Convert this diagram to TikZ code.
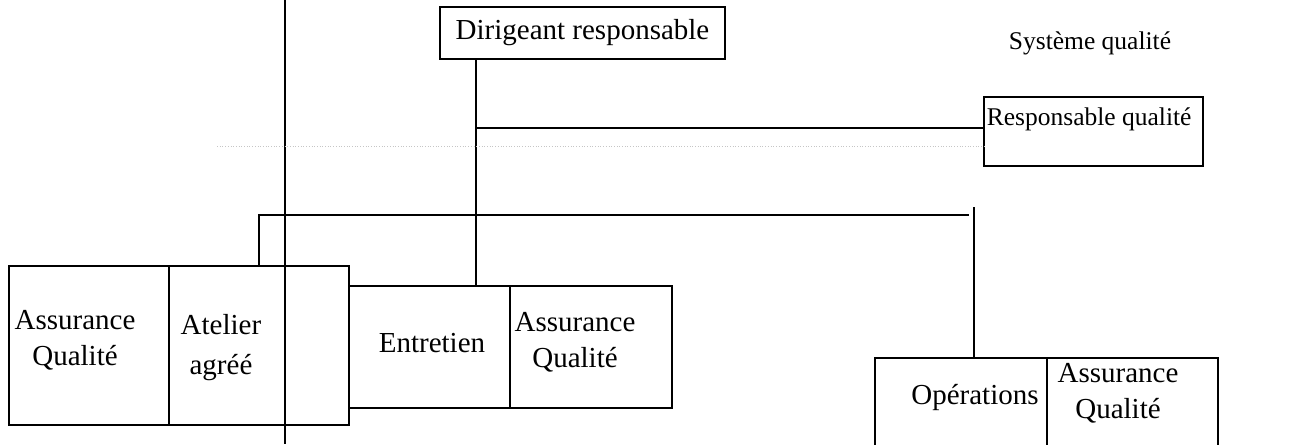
\documentclass[tikz,border=0pt]{standalone}
\usepackage{fontspec}
\setmainfont{Liberation Serif}
\begin{document}
\begin{tikzpicture}[x=1pt,y=-1pt,line width=1.7pt,
  box/.style={draw, anchor=north west, inner sep=0pt, outer sep=0pt},
  txt/.style={font=\fontsize{29}{36}\selectfont, align=center, inner sep=0pt},
  smalltxt/.style={font=\fontsize{25.5}{30}\selectfont, inner sep=0pt}]
\useasboundingbox (0,0) rectangle (1305,444);
\clip (0,0) rectangle (1305,444);
% boxes
\node[box, minimum width=160pt, minimum height=159pt] (aq1) at (9,266) {};
\node[box, minimum width=116pt, minimum height=159pt] (atel) at (169,266) {};
\node[box, minimum width=64pt, minimum height=159pt] (emp) at (285,266) {};
\node[box, minimum width=161pt, minimum height=122pt] (entr) at (349,286) {};
\node[box, minimum width=162pt, minimum height=122pt] (aq2) at (510,286) {};
\node[box, minimum width=285pt, minimum height=52pt] (dir) at (440,7) {};
\node[box, minimum width=219pt, minimum height=69pt] (resp) at (984,97) {};
\node[box, minimum width=172pt, minimum height=120pt] (ops) at (875,358) {};
\node[box, minimum width=171pt, minimum height=120pt] (aq3) at (1047,358) {};
% texts
\node[txt] (taq1) at (75,340) {Assurance\\Qualité};
\node[txt, font=\fontsize{29}{40}\selectfont] (tatel) at (221,348) {Atelier\\agréé};
\node[txt] (tentr) at (432,343) {Entretien};
\node[txt] (taq2) at (575,342) {Assurance\\Qualité};
\node[txt] (tdir) at (dir.center) {Dirigeant responsable};
\node[smalltxt, anchor=west] (tresp) at (986,119) {Responsable qualité};
\node[smalltxt] (tsys) at (1090,43) {Système qualité};
\node[txt] (tops) at (975,397) {Opérations};
\node[txt] (taq3) at (1118,393) {Assurance\\Qualité};
% connectors
\coordinate (j1) at (476,128);
\draw (dir.south -| j1) -- (entr.north -| j1);
\draw (j1) -- (j1 -| resp.west);
\coordinate (a1) at (259,215);
\coordinate (a2) at (969,215);
\draw (atel.north -| a1) -- (a1) -- (a2);
\coordinate (o1) at (974,207);
\draw (o1) -- (ops.north -| o1);
\coordinate (vt) at (285,0);
\coordinate (vb) at (285,444);
\draw (vt) -- (vb);
\coordinate (d1) at (217,146);
\draw[gray!45, dotted, line width=0.7pt] (d1) -- (d1 -| resp.west);
\end{tikzpicture}
\end{document}
